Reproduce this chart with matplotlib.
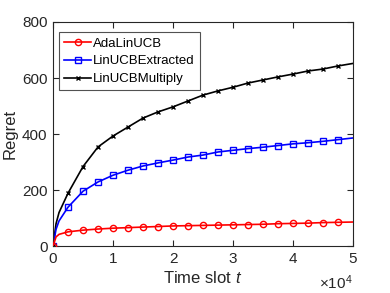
import matplotlib
matplotlib.use("Agg")
import matplotlib.pyplot as plt
from matplotlib.ticker import FuncFormatter

plt.rcParams["font.family"] = ["Liberation Sans", "DejaVu Sans"]
plt.rcParams["mathtext.fontset"] = "custom"
plt.rcParams["mathtext.it"] = "Liberation Sans:italic"
plt.rcParams["mathtext.rm"] = "Liberation Sans"

# time slots (line points); markers every 2500
t = [0, 500, 1000, 2500, 5000, 7500, 10000, 12500, 15000, 17500, 20000,
     22500, 25000, 27500, 30000, 32500, 35000, 37500, 40000, 42500, 45000,
     47500, 50000]

ada = [0, 33, 42, 51, 57, 61, 64, 66, 68, 70, 72, 73, 74, 75, 76, 77, 78,
       80, 81, 82, 84, 85, 86]
extracted = [0, 60, 90, 139, 196, 229, 253, 271, 286, 297, 307, 318, 325,
             336, 342, 348, 353, 359, 365, 369, 374, 380, 386]
multiply = [0, 80, 120, 189, 284, 354, 393, 425, 457, 479, 497, 518, 539,
            554, 567, 582, 593, 604, 614, 625, 632, 643, 652]

marker_idx = [0] + list(range(3, len(t) - 1))
dark = "#262626"

fig = plt.figure(figsize=(3.9, 2.93), dpi=100)
ax = fig.add_axes([0.136, 0.160, 0.769, 0.765])

ax.plot(t, ada, color="red", linewidth=1.2, marker="o", markersize=4.5,
        markerfacecolor="none", markeredgewidth=1.0, markevery=marker_idx,
        label="AdaLinUCB", zorder=3)
ax.plot(t, extracted, color="blue", linewidth=1.2, marker="s", markersize=4,
        markerfacecolor="none", markeredgewidth=1.0, markevery=marker_idx,
        label="LinUCBExtracted", zorder=2)
ax.plot(t, multiply, color="black", linewidth=1.2, marker="x", markersize=3.5,
        markeredgewidth=1.0, markevery=marker_idx,
        label="LinUCBMultiply", zorder=1)

ax.set_xlim(0, 50000)
ax.set_ylim(0, 800)
ax.set_yticks([0, 200, 400, 600, 800])
ax.set_xticks([0, 10000, 20000, 30000, 40000, 50000])
ax.xaxis.set_major_formatter(FuncFormatter(lambda v, p: "{:g}".format(v / 1e4)))
ax.tick_params(direction="in", top=True, right=True, labelsize=11,
               colors=dark, length=4, pad=4)
for s in ax.spines.values():
    s.set_color(dark)
    s.set_linewidth(0.8)
ax.text(1.0, -0.19, r"$\times$10$^4$", transform=ax.transAxes, ha="right",
        va="baseline", fontsize=11, color=dark)

ax.set_xlabel("Time slot $t$", fontsize=12, color=dark, labelpad=3)
ax.set_ylabel("Regret", fontsize=12, color=dark, labelpad=3)

leg = ax.legend(loc="upper left", bbox_to_anchor=(0.02, 0.955), fontsize=9.5,
                frameon=True, fancybox=False, edgecolor=dark,
                handlelength=2.0, handletextpad=0.2, borderpad=0.4,
                labelspacing=0.42, borderaxespad=0)
leg.get_frame().set_linewidth(0.8)

fig.savefig("out.png", dpi=100)
